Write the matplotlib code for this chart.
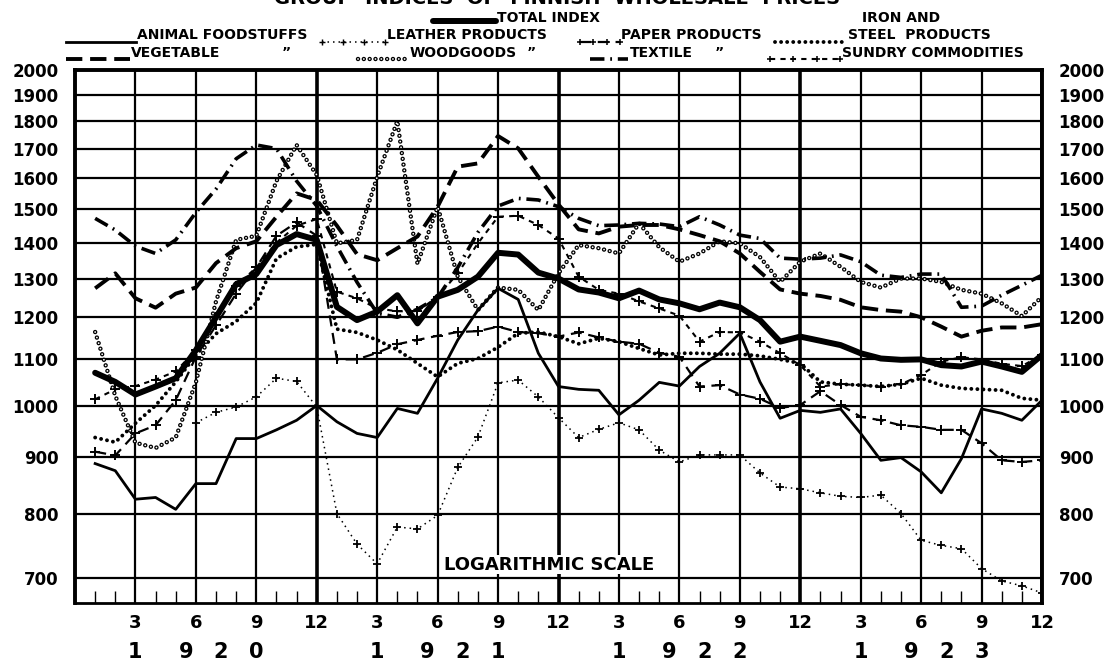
import numpy as np
import matplotlib
matplotlib.use("Agg")
import matplotlib.pyplot as plt
from matplotlib.lines import Line2D

# ---------------- data (month 1 = Jan 1920 ... 48 = Dec 1923) ----------------
months = list(range(1, 49))

total_index = [1070, 1050, 1023, 1040, 1058, 1121, 1200, 1285, 1312, 1393, 1425, 1408,
               1226, 1193, 1214, 1256, 1185, 1252, 1270, 1305, 1371, 1366, 1316, 1300,
               1271, 1263, 1248, 1268, 1245, 1235, 1220, 1237, 1225, 1193, 1141, 1153,
               1143, 1133, 1114, 1102, 1099, 1100, 1087, 1084, 1095, 1084, 1072, 1110]

animal_foodstuffs = [887, 874, 824, 827, 807, 851, 851, 934, 934, 951, 970, 1000,
                     967, 944, 936, 994, 984, 1058, 1145, 1218, 1274, 1245, 1114, 1040,
                     1034, 1032, 981, 1011, 1049, 1041, 1084, 1114, 1161, 1050, 974, 990,
                     986, 993, 944, 893, 898, 872, 835, 896, 993, 984, 970, 1011]

vegetable_foodstuffs = [1274, 1314, 1248, 1224, 1260, 1276, 1342, 1384, 1404, 1477, 1550, 1529,
                        1450, 1367, 1350, 1384, 1418, 1508, 1638, 1649, 1745, 1701, 1604, 1515,
                        1439, 1427, 1447, 1452, 1452, 1439, 1422, 1404, 1369, 1318, 1271, 1260,
                        1254, 1244, 1225, 1218, 1214, 1200, 1177, 1153, 1167, 1175, 1175, 1183]

textile = [1472, 1437, 1390, 1369, 1408, 1490, 1564, 1665, 1713, 1700, 1590, 1510,
           1390, 1290, 1210, 1200, 1220, 1250, 1330, 1430, 1510, 1534, 1529, 1508,
           1472, 1450, 1452, 1457, 1455, 1447, 1477, 1452, 1422, 1412, 1356, 1353,
           1356, 1365, 1346, 1309, 1303, 1312, 1312, 1225, 1228, 1256, 1282, 1309]

woodgoods = [1164, 1020, 926, 916, 936, 1049, 1240, 1408, 1420, 1590, 1713, 1610,
             1398, 1408, 1604, 1800, 1340, 1508, 1305, 1218, 1276, 1270, 1218, 1314,
             1393, 1384, 1369, 1457, 1387, 1346, 1369, 1404, 1398, 1359, 1291, 1346,
             1369, 1332, 1291, 1276, 1300, 1300, 1291, 1270, 1260, 1235, 1203, 1252]

iron_steel = [936, 927, 964, 1000, 1050, 1110, 1160, 1190, 1236, 1355, 1388, 1395,
              1171, 1163, 1145, 1122, 1091, 1061, 1091, 1102, 1128, 1161, 1164, 1153,
              1136, 1149, 1141, 1125, 1110, 1114, 1114, 1112, 1112, 1108, 1100, 1091,
              1050, 1045, 1043, 1040, 1045, 1058, 1043, 1036, 1034, 1032, 1015, 1011]

paper = [909, 902, 944, 960, 1011, 1106, 1180, 1260, 1330, 1420, 1460, 1420,
         1100, 1100, 1115, 1135, 1145, 1155, 1164, 1166, 1177, 1164, 1161, 1153,
         1163, 1151, 1141, 1136, 1115, 1106, 1040, 1043, 1023, 1014, 995, 1001,
         1030, 1001, 977, 970, 960, 957, 951, 951, 925, 893, 890, 893]

leather = [np.nan, np.nan, np.nan, np.nan, np.nan, 965, 986, 997, 1018, 1058, 1051, 997,
           800, 751, 721, 778, 775, 797, 880, 937, 1048, 1054, 1018, 975,
           936, 952, 965, 951, 912, 890, 903, 903, 903, 870, 845, 842,
           835, 829, 827, 831, 800, 757, 749, 744, 714, 696, 689, 679]

sundry = [1013, 1034, 1041, 1055, 1073, 1121, 1200, 1280, 1330, 1400, 1450, 1470,
          1265, 1248, 1222, 1215, 1215, 1252, 1314, 1398, 1477, 1480, 1452, 1412,
          1305, 1270, 1260, 1240, 1222, 1204, 1141, 1164, 1163, 1141, 1114, 1087,
          1040, 1045, 1043, 1040, 1045, 1065, 1095, 1105, 1100, 1090, 1085, 1110]

y_ticks = list(range(700, 2001, 100))
month_ticks = list(range(3, 49, 3))
month_labels = ["3", "6", "9", "12"] * 4
years = ["1920", "1921", "1922", "1923"]

# ---------------- figure ----------------
W, H = 1116, 661
fig = plt.figure(figsize=(W / 100, H / 100), dpi=100)
fig.patch.set_facecolor("white")

def fx(px):
    return px / W

def fy(py):
    return 1 - py / H

ax = fig.add_axes([fx(75), fy(603), fx(1042) - fx(75), fy(70) - fy(603)])
ax.set_yscale("log")
ax.set_ylim(665, 2000)
ax.set_xlim(0, 48)

FONT = "DejaVu Sans"

# grid
for v in y_ticks:
    ax.axhline(v, color="black", lw=1.6, zorder=1)
for m in month_ticks:
    ax.axvline(m, color="black", lw=2.6 if m % 12 == 0 else 1.6, zorder=1)

for side in ["left", "right", "top"]:
    ax.spines[side].set_linewidth(2.8)
ax.spines["bottom"].set_linewidth(2.0)

ax.yaxis.set_minor_locator(matplotlib.ticker.NullLocator())
ax.set_yticks(y_ticks)
ax.set_yticklabels([str(v) for v in y_ticks])
ax.tick_params(axis="y", which="major", length=0, labelleft=True, labelright=True,
               pad=12, labelsize=12)
for lab in ax.get_yticklabels():
    lab.set_fontweight("bold")
    lab.set_family(FONT)

ax.set_xticks(month_ticks)
ax.set_xticklabels(month_labels)
ax.set_xticks(months, minor=True)
ax.tick_params(axis="x", which="major", length=0, pad=8, labelsize=13)
ax.tick_params(axis="x", which="minor", direction="in", length=9, width=1.0)
for lab in ax.get_xticklabels():
    lab.set_fontweight("bold")
    lab.set_family(FONT)

# year digits below month labels
tr = matplotlib.transforms.blended_transform_factory(ax.transData, ax.transAxes)
digit_offsets = [3.0, 5.5, 7.25, 9.0]
for i, yr in enumerate(years):
    for d, off in zip(yr, digit_offsets):
        ax.text(12 * i + off, -0.092, d, transform=tr, ha="center", va="center",
                fontsize=15, fontweight="bold", family=FONT)

# ---------------- styles ----------------
styles = {
    "total": dict(color="black", lw=4.3, solid_capstyle="round", solid_joinstyle="round"),
    "animal": dict(color="black", lw=2.0),
    "vegetable": dict(color="black", lw=2.8, linestyle=(0, (4.2, 2.0))),
    "textile": dict(color="black", lw=2.6, linestyle=(0, (4.0, 1.6, 0.5, 1.6))),
    "iron": dict(color="black", lw=2.8, linestyle=(0, (0.01, 1.55)), dash_capstyle="round"),
    "leather": dict(color="black", lw=1.1, linestyle=(0, (1.0, 2.6)), marker="+",
                    markersize=6, markeredgewidth=1.3),
    "paper": dict(color="black", lw=1.6, linestyle=(0, (5.0, 3.0)), marker="+",
                  markersize=7, markeredgewidth=1.4),
    "sundry": dict(color="black", lw=1.5, linestyle=(0, (2.5, 2.5)), marker="+",
                   markersize=7, markeredgewidth=1.4),
}
WOOD_OUT = 3.2
WOOD_IN = 1.3
wood_pat = (0.01, 1.3)
wood_outer = dict(color="black", lw=WOOD_OUT, linestyle=(0, wood_pat), dash_capstyle="round")
wood_inner = dict(color="white", lw=WOOD_IN,
                  linestyle=(0, tuple(p * WOOD_OUT / WOOD_IN for p in wood_pat)),
                  dash_capstyle="round")

ax.plot(months, leather, zorder=3, **styles["leather"])
ax.plot(months, sundry, zorder=3, **styles["sundry"])
ax.plot(months, paper, zorder=3, **styles["paper"])
ax.plot(months, iron_steel, zorder=3, **styles["iron"])
ax.plot(months, woodgoods, zorder=3, **wood_outer)
ax.plot(months, woodgoods, zorder=3.1, **wood_inner)
ax.plot(months, textile, zorder=4, **styles["textile"])
ax.plot(months, vegetable_foodstuffs, zorder=4, **styles["vegetable"])
ax.plot(months, animal_foodstuffs, zorder=5, **styles["animal"])
ax.plot(months, total_index, zorder=6, **styles["total"])

ax.text(18.3, 720, "LOGARITHMIC SCALE", fontsize=13, fontweight="bold", family=FONT,
        ha="left", va="center", zorder=7,
        bbox=dict(facecolor="white", edgecolor="none", pad=0.5))

# ---------------- title (cut off at the top edge, as in the scan) ----------------
fig.text(0.4995, fy(-1), "GROUP  INDICES  OF  FINNISH  WHOLESALE  PRICES", ha="center",
         va="center", fontsize=14, fontweight="bold", family=FONT)

# ---------------- legend (hand placed like the original) ----------------
LFS = 10

def sample(x0, x1, y, style, wood=False):
    if wood:
        fig.add_artist(Line2D([fx(x0), fx(x1)], [fy(y), fy(y)], **wood_outer))
        fig.add_artist(Line2D([fx(x0), fx(x1)], [fy(y), fy(y)], **wood_inner))
        return
    st = dict(style)
    st.pop("marker", None)
    ms = style.get("marker")
    fig.add_artist(Line2D([fx(x0), fx(x1)], [fy(y), fy(y)], **st))
    if ms:
        xs = np.linspace(x0, x1, 4)
        fig.add_artist(Line2D([fx(v) for v in xs], [fy(y)] * len(xs), linestyle="none",
                              marker=ms, markersize=style["markersize"] * 0.7,
                              markeredgewidth=style["markeredgewidth"] * 0.8, color="black"))

def label(x, y, s):
    fig.text(fx(x), fy(y), s, fontsize=LFS, fontweight="bold", family=FONT,
             ha="left", va="center")

# row 1
sample(433, 496, 21, styles["total"])
label(497, 18, "TOTAL INDEX")
label(862, 18, "IRON AND")
# row 2
sample(66, 136, 42, styles["animal"])
label(137, 35, "ANIMAL FOODSTUFFS")
sample(322, 385, 42, styles["leather"])
label(387, 35, "LEATHER PRODUCTS")
sample(580, 620, 42, styles["paper"])
label(621, 35, "PAPER PRODUCTS")
sample(775, 845, 42, styles["iron"])
label(848, 35, "STEEL  PRODUCTS")
# row 3
sample(66, 130, 59, styles["vegetable"])
label(131, 53, "VEGETABLE")
label(282, 53, "\u201d")
sample(358, 408, 59, None, wood=True)
label(410, 53, "WOODGOODS")
label(527, 53, "\u201d")
sample(590, 628, 59, styles["textile"])
label(630, 53, "TEXTILE")
label(715, 53, "\u201d")
sample(770, 840, 59, styles["sundry"])
label(842, 53, "SUNDRY COMMODITIES")

fig.savefig("out.png", dpi=100, facecolor="white")
